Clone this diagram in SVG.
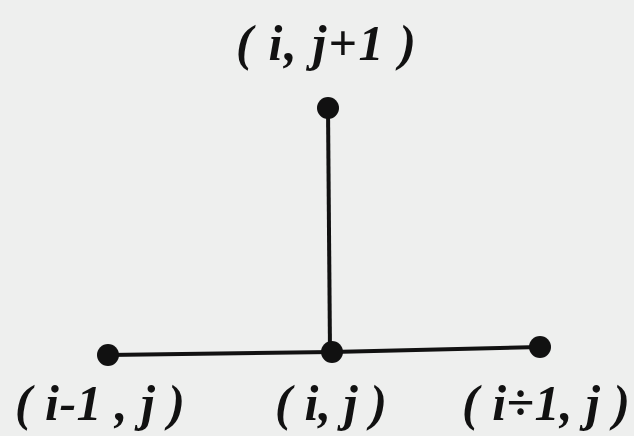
<svg xmlns="http://www.w3.org/2000/svg" width="634" height="436" viewBox="0 0 634 436">
<style>
.lbl{font-family:"Liberation Serif","Times New Roman",serif;font-weight:bold;font-style:italic;font-size:50px;fill:#111;}
.node{fill:#111;}
.edge{stroke:#111;stroke-width:4;fill:none;}
</style>
<rect width="634" height="436" fill="#eeefee"/>
<g id="connectors">
<line class="edge" x1="328" y1="108" x2="330" y2="352"/>
<line class="edge" x1="108" y1="355" x2="332" y2="352"/>
<line class="edge" x1="332" y1="352" x2="540" y2="347"/>
</g>
<g id="n_top"><circle class="node" cx="328" cy="108" r="11"/><text class="lbl" x="236" y="60" textLength="180" lengthAdjust="spacing">( i, j+1 )</text></g>
<g id="n_left"><circle class="node" cx="108" cy="355" r="11"/><text class="lbl" x="15" y="420" textLength="170" lengthAdjust="spacing">( i-1 , j )</text></g>
<g id="n_center"><circle class="node" cx="332" cy="352" r="11"/><text class="lbl" x="275" y="420" textLength="112" lengthAdjust="spacing">( i, j )</text></g>
<g id="n_right"><circle class="node" cx="540" cy="347" r="11"/><text class="lbl" x="462" y="420" textLength="168" lengthAdjust="spacing">( i÷1, j )</text></g>
</svg>
